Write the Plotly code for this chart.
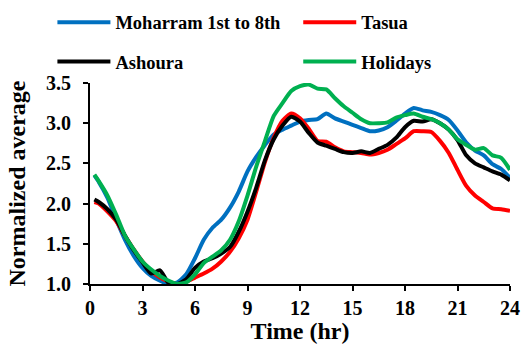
import plotly.graph_objects as go

# Hour of day (common sampling grid for all series)
hours = [0.25, 0.5, 1.0, 1.5, 2.0, 2.5, 3.0, 3.5, 4.0, 4.5, 5.0, 5.5, 6.0, 6.5, 7.0, 7.5,
         8.0, 8.5, 9.0, 9.5, 10.0, 10.5, 11.0, 11.5, 12.0, 12.5, 13.0, 13.5, 14.0, 14.5,
         15.0, 15.5, 16.0, 16.5, 17.0, 17.5, 18.0, 18.5, 19.0, 19.5, 20.0, 20.5, 21.0,
         21.5, 22.0, 22.5, 23.0, 23.5, 24.0]

moharram = [2.35, 2.27, 2.07, 1.80, 1.55, 1.35, 1.20, 1.10, 1.04, 1.00, 1.02, 1.12, 1.32,
            1.55, 1.70, 1.80, 1.95, 2.15, 2.40, 2.58, 2.73, 2.86, 2.92, 2.97, 3.02, 3.04,
            3.05, 3.12, 3.06, 3.02, 2.98, 2.94, 2.90, 2.91, 2.95, 3.03, 3.12, 3.19, 3.16,
            3.14, 3.10, 3.04, 2.91, 2.76, 2.66, 2.60, 2.49, 2.43, 2.32]

tasua = [2.02, 2.00, 1.90, 1.78, 1.60, 1.43, 1.28, 1.16, 1.08, 1.03, 1.00, 1.03, 1.08,
         1.13, 1.19, 1.28, 1.40, 1.57, 1.80, 2.15, 2.52, 2.82, 3.03, 3.12, 3.06, 2.93,
         2.78, 2.77, 2.70, 2.65, 2.64, 2.63, 2.61, 2.63, 2.67, 2.74, 2.81, 2.90, 2.90,
         2.89, 2.78, 2.63, 2.42, 2.22, 2.10, 2.02, 1.94, 1.93, 1.91]

ashoura = [2.05, 2.02, 1.93, 1.80, 1.60, 1.42, 1.27, 1.13, 1.17, 1.01, 1.00, 1.06, 1.20,
           1.28, 1.32, 1.38, 1.46, 1.65, 1.90, 2.20, 2.54, 2.80, 2.97, 3.08, 3.02, 2.88,
           2.76, 2.72, 2.68, 2.64, 2.63, 2.65, 2.63, 2.68, 2.73, 2.82, 2.95, 3.03, 3.02,
           3.05, 3.00, 2.92, 2.79, 2.60, 2.50, 2.45, 2.40, 2.36, 2.29]

holidays = [2.36, 2.28, 2.10, 1.86, 1.60, 1.43, 1.28, 1.18, 1.10, 1.04, 1.00, 1.02, 1.12,
            1.26, 1.34, 1.42, 1.55, 1.78, 2.10, 2.46, 2.78, 3.09, 3.25, 3.40, 3.46, 3.48,
            3.43, 3.42, 3.31, 3.21, 3.13, 3.05, 3.00, 3.00, 3.01, 3.07, 3.10, 3.12, 3.08,
            3.05, 3.00, 2.92, 2.80, 2.73, 2.67, 2.69, 2.60, 2.57, 2.42]

x_ticks = [0, 3, 6, 9, 12, 15, 18, 21, 24]
y_ticks = [1.0, 1.5, 2.0, 2.5, 3.0, 3.5]

# name, values, colour, legend id, legend anchor (paper x, paper y)
series = [
    ("Moharram 1st to 8th", moharram, "#0070C0", "legend2", (-0.0895, 1.300)),
    ("Tasua", tasua, "#FF0000", "legend3", (0.4958, 1.300)),
    ("Ashoura", ashoura, "#000000", "legend4", (-0.0895, 1.1045)),
    ("Holidays", holidays, "#00B050", "legend5", (0.4958, 1.1045)),
]

FONT = "Liberation Serif"

fig = go.Figure()
legends = {}
for name, vals, color, leg, (lx, ly) in series:
    fig.add_trace(go.Scatter(
        x=hours, y=vals, name=name, mode="lines",
        line=dict(color=color, width=4, shape="spline", smoothing=0.6),
        legend=leg,
    ))
    legends[leg] = dict(
        x=lx, y=ly, xanchor="left", yanchor="middle", orientation="h",
        font=dict(family=FONT, size=18.5, color="black", weight="bold"),
        bgcolor="rgba(0,0,0,0)", itemwidth=53,
    )

fig.update_layout(
    width=521, height=344,
    margin=dict(l=90, r=11, t=83, b=60, autoexpand=False),
    paper_bgcolor="white", plot_bgcolor="white",
    showlegend=True,
    font=dict(family=FONT, size=20, color="black", weight="bold"),
    xaxis=dict(
        range=[0, 24], tickvals=x_ticks, ticktext=[str(v) for v in x_ticks],
        showline=True, linecolor="black", linewidth=2, mirror=False,
        ticks="outside", ticklen=5, tickwidth=2, tickcolor="black",
        showgrid=False, zeroline=False, automargin=False,
        tickfont=dict(family=FONT, size=20, weight="bold"),
        title=dict(text="Time (hr)", font=dict(family=FONT, size=24, weight="bold"), standoff=1),
    ),
    yaxis=dict(
        range=[1.0, 3.5], tickvals=y_ticks, ticktext=[f"{v:.1f}" for v in y_ticks],
        showline=True, linecolor="black", linewidth=2,
        ticks="outside", ticklen=5, tickwidth=2, tickcolor="black",
        showgrid=False, zeroline=False, ticklabelstandoff=8, automargin=False,
        tickfont=dict(family=FONT, size=20, weight="bold"),
        title=dict(text="Normalized average", font=dict(family=FONT, size=24, weight="bold"), standoff=14),
    ),
    **legends,
)

fig.write_html("out.html")
